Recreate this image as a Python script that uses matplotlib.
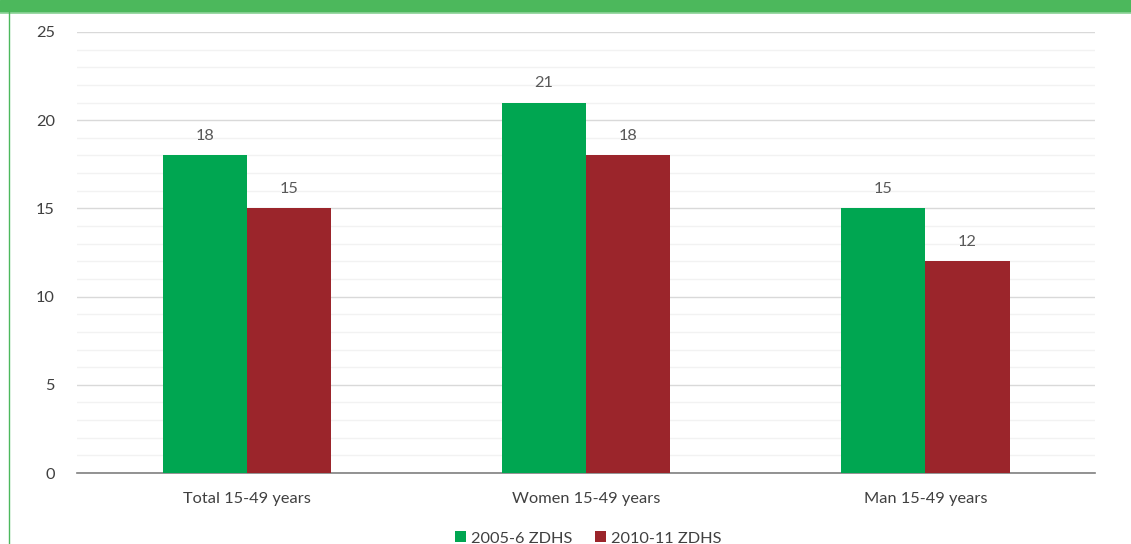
import matplotlib.pyplot as plt
import numpy as np
from matplotlib.patches import Rectangle
from matplotlib.lines import Line2D

categories = ["Total 15-49 years", "Women 15-49 years", "Man 15-49 years"]
series_names = ["2005-6 ZDHS", "2010-11 ZDHS"]
values_2005 = [18, 21, 15]
values_2010 = [15, 18, 12]

green = "#00A651"
red = "#9B252B"
band = "#4CB85C"

plt.rcParams['font.family'] = ['Lato', 'DejaVu Sans']
fs = 11.8

fig = plt.figure(figsize=(11.31, 5.44), dpi=100)
ax = fig.add_axes([0.0681, 0.1305, 0.9001, 0.8107])

x = np.arange(len(categories)) + 0.5
w = 0.248
b1 = ax.bar(x - w / 2, values_2005, w, color=green, label=series_names[0], zorder=3)
b2 = ax.bar(x + w / 2, values_2010, w, color=red, label=series_names[1], zorder=3)

for bars in (b1, b2):
    for r in bars:
        ax.text(r.get_x() + r.get_width() / 2, r.get_height() + 0.7, f"{r.get_height():g}",
                ha='center', va='bottom', fontsize=fs, color='#595959')

ax.set_xlim(0, 3)
ax.set_ylim(0, 25)
ax.set_yticks(range(0, 26, 5))
ax.set_yticks(range(0, 26), minor=True)
ax.set_xticks(x)
ax.set_xticklabels(categories)
ax.grid(axis='y', which='major', color='#D9D9D9', linewidth=1.0, zorder=0)
ax.grid(axis='y', which='minor', color='#F2F2F2', linewidth=1.0, zorder=0)
for s in ('top', 'right', 'left'):
    ax.spines[s].set_visible(False)
ax.spines['bottom'].set_color('#808080')
ax.spines['bottom'].set_linewidth(1.2)
ax.tick_params(axis='both', which='both', length=0, labelsize=fs, colors='#404040')
ax.tick_params(axis='y', pad=16)
ax.tick_params(axis='x', pad=14)

leg = fig.legend(handles=[b1, b2], labels=series_names, loc='lower center',
                 bbox_to_anchor=(0.52, -0.03), ncol=2, frameon=False, fontsize=fs,
                 handlelength=0.65, handleheight=0.65, handletextpad=0.3, columnspacing=1.4)
for t in leg.get_texts():
    t.set_color('#404040')

# header band and left frame line
fig.patches.append(Rectangle((0, 1 - 12 / 544), 1, 12 / 544, transform=fig.transFigure,
                             color=band, zorder=0))
fig.lines.append(Line2D([0, 1], [1 - 13 / 544] * 2, transform=fig.transFigure,
                        color='#8FD39A', linewidth=1.2))
fig.lines.append(Line2D([9 / 1131] * 2, [0, 1 - 12 / 544], transform=fig.transFigure,
                        color=band, linewidth=1.0))

fig.savefig("out.png", dpi=100)
